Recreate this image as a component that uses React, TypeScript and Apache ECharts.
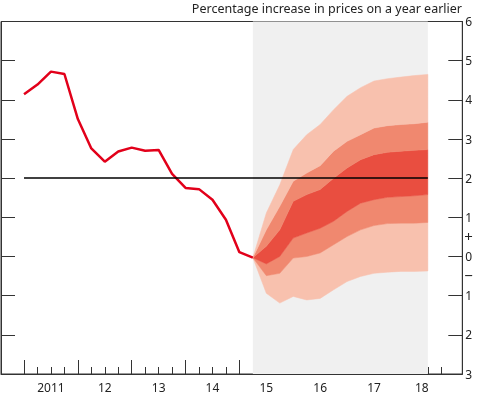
import React, { useEffect, useRef } from "react";
import * as echarts from "echarts";

const TITLE = "Percentage increase in prices on a year earlier";
const FONT = "'Noto Sans', 'Open Sans', sans-serif";

// Quarter index 0 = 2011 Q1
const YEAR_LABELS = ["2011", "12", "13", "14", "15", "16", "17", "18"];
const YEAR_LABEL_AT = [2, 6, 10, 14, 18, 22, 26, 29.55];
const QUARTER_TICKS = Array.from({ length: 32 }, (_, i) => i);
const YEAR_TICKS = [0, 4, 8, 12, 16, 20, 24, 28];

const HISTORY = [4.14, 4.39, 4.72, 4.66, 3.51, 2.76, 2.42, 2.68, 2.78, 2.7, 2.72, 2.11, 1.75, 1.72, 1.45, 0.94, 0.11, -0.03];

const FAN_START = 17;
const FAN_END = 30;
const OUTER_UPPER = [-0.03, 1.11, 1.83, 2.73, 3.11, 3.37, 3.75, 4.09, 4.31, 4.48, 4.54, 4.58, 4.62, 4.65];
const MID_UPPER = [-0.03, 0.68, 1.28, 1.92, 2.13, 2.32, 2.69, 2.94, 3.11, 3.28, 3.34, 3.37, 3.39, 3.43];
const INNER_UPPER = [-0.03, 0.26, 0.68, 1.41, 1.58, 1.71, 2.0, 2.26, 2.47, 2.6, 2.66, 2.69, 2.71, 2.73];
const INNER_LOWER = [-0.03, -0.19, 0.0, 0.47, 0.6, 0.72, 0.9, 1.15, 1.36, 1.45, 1.51, 1.53, 1.55, 1.58];
const MID_LOWER = [-0.03, -0.49, -0.43, -0.04, 0.0, 0.09, 0.3, 0.51, 0.68, 0.79, 0.84, 0.85, 0.85, 0.87];
const OUTER_LOWER = [-0.03, -0.94, -1.19, -1.02, -1.11, -1.07, -0.85, -0.64, -0.51, -0.43, -0.4, -0.38, -0.38, -0.37];

const TARGET = 2;
const Y_MIN = -3;
const Y_MAX = 6;
const SIGN_LABEL_AT = [0.52, -0.46];

const LIGHT = "#f8c1ae";
const MEDIUM = "#f0886f";
const DARK = "#e94e40";
const LINE_RED = "#e2001a";
const AXIS = "#333333";

export default function App() {
  const ref = useRef<HTMLDivElement>(null);

  useEffect(() => {
    if (!ref.current) return;
    const chart = echarts.init(ref.current, undefined, { renderer: "svg" });

    const bands: [number[], number[], string][] = [
      [OUTER_LOWER, MID_LOWER, LIGHT],
      [MID_LOWER, INNER_LOWER, MEDIUM],
      [INNER_LOWER, INNER_UPPER, DARK],
      [INNER_UPPER, MID_UPPER, MEDIUM],
      [MID_UPPER, OUTER_UPPER, LIGHT],
    ];

    const baseX = {
      type: "value",
      min: -1.71,
      max: 32.56,
      position: "bottom",
      splitLine: { show: false },
    };

    chart.setOption({
      animation: false,
      title: {
        text: TITLE,
        right: 18,
        top: 2,
        padding: 0,
        textStyle: { fontSize: 12.5, fontWeight: "normal", color: "#222", fontFamily: FONT },
      },
      grid: {
        left: 1,
        right: 17.7,
        top: 21.5,
        bottom: 22,
        show: true,
        borderColor: AXIS,
        borderWidth: 1,
        backgroundColor: "transparent",
      },
      xAxis: [
        {
          ...baseX,
          axisLine: { show: true, onZero: false, lineStyle: { color: AXIS, width: 1 } },
          axisTick: {
            show: true,
            inside: true,
            length: 7,
            lineStyle: { color: AXIS, width: 1 },
            customValues: QUARTER_TICKS,
          },
          axisLabel: {
            show: true,
            margin: 7,
            fontSize: 12,
            color: "#222",
            fontFamily: FONT,
            customValues: YEAR_LABEL_AT,
            formatter: (v: number) => {
              const idx = YEAR_LABEL_AT.findIndex((p) => Math.abs(p - v) < 1e-6);
              return idx >= 0 ? YEAR_LABELS[idx] : "";
            },
          },
        },
        {
          ...baseX,
          axisLine: { show: false, onZero: false },
          axisTick: {
            show: true,
            inside: true,
            length: 14,
            lineStyle: { color: AXIS, width: 1 },
            customValues: YEAR_TICKS,
          },
          axisLabel: { show: false },
        },
      ],
      yAxis: [
        {
          type: "value",
          position: "left",
          min: Y_MIN,
          max: Y_MAX,
          interval: 1,
          splitLine: { show: false },
          axisLine: { show: true, onZero: false, lineStyle: { color: AXIS, width: 1 } },
          axisTick: { show: true, inside: true, length: 14, lineStyle: { color: AXIS, width: 1 } },
          axisLabel: { show: false },
        },
        {
          type: "value",
          position: "right",
          min: Y_MIN,
          max: Y_MAX,
          interval: 1,
          splitLine: { show: false },
          axisLine: { show: true, onZero: false, lineStyle: { color: AXIS, width: 1 } },
          axisTick: { show: true, inside: true, length: 14, lineStyle: { color: AXIS, width: 1 } },
          axisLabel: {
            show: true,
            margin: 3,
            fontSize: 12,
            color: "#222",
            fontFamily: FONT,
            align: "left",
            formatter: (v: number) => String(Math.abs(v)),
          },
        },
        {
          type: "value",
          position: "right",
          min: Y_MIN,
          max: Y_MAX,
          splitLine: { show: false },
          axisLine: { show: false, onZero: false },
          axisTick: { show: false },
          axisLabel: {
            show: true,
            margin: 2,
            fontSize: 15,
            lineHeight: 14,
            color: "#222",
            fontFamily: FONT,
            align: "left",
            customValues: SIGN_LABEL_AT,
            formatter: (v: number) => (v > 0 ? "+" : "\u2212"),
          },
        },
      ],
      series: [
        {
          type: "line",
          data: [],
          z: 1,
          silent: true,
          markArea: {
            silent: true,
            itemStyle: { color: "#f0f0f0" },
            data: [[{ xAxis: FAN_START }, { xAxis: FAN_END }]],
          },
        },
        {
          type: "custom",
          z: 2,
          silent: true,
          clip: true,
          data: bands.map((_, i) => [FAN_START, i]),
          encode: { x: 0, y: 1 },
          renderItem: (params: any, api: any) => {
            const [lo, hi, color] = bands[params.dataIndex];
            const pts: number[][] = [];
            for (let k = 0; k < hi.length; k++) pts.push(api.coord([FAN_START + k, hi[k]]));
            for (let k = lo.length - 1; k >= 0; k--) pts.push(api.coord([FAN_START + k, lo[k]]));
            return {
              type: "polygon",
              shape: { points: pts },
              style: { fill: color, stroke: color, lineWidth: 0.5 },
            };
          },
        },
        {
          type: "line",
          data: HISTORY.map((v, i) => [i, v]),
          showSymbol: false,
          lineStyle: { color: LINE_RED, width: 2.5 },
          z: 3,
          silent: true,
        },
        {
          type: "line",
          data: [],
          z: 4,
          silent: true,
          markLine: {
            silent: true,
            symbol: ["none", "none"],
            label: { show: false },
            lineStyle: { color: "#000", width: 1.5, type: "solid" },
            data: [[{ coord: [0, TARGET] }, { coord: [FAN_END, TARGET] }]],
          },
        },
      ],
    });

    return () => chart.dispose();
  }, []);

  return (
    <div
      ref={ref}
      style={{ position: "fixed", left: 0, top: 0, width: 480, height: 396 }}
    />
  );
}
